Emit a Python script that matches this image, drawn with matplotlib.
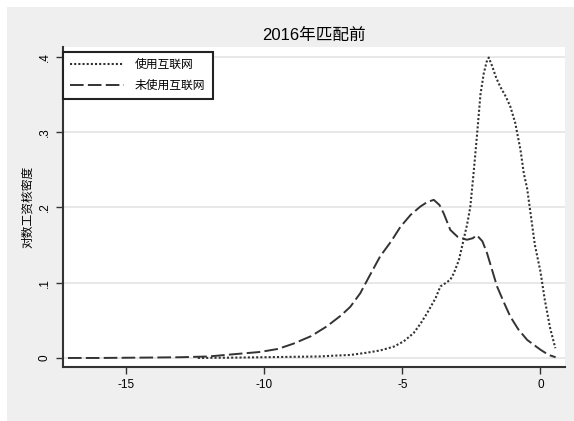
import matplotlib
matplotlib.use('Agg')
import matplotlib.pyplot as plt
from matplotlib.patches import Rectangle

plt.rcParams['font.family'] = ['Liberation Sans', 'Noto Sans CJK SC', 'DejaVu Sans']

# kernel density
x_internet = [-12.4, -11, -10, -9, -8, -7.5, -6.88, -6.28, -5.8, -5.31, -4.95, -4.59,
              -4.35, -4.11, -3.8, -3.62, -3.45, -3.26, -3.14, -2.95, -2.78, -2.65, -2.54,
              -2.42, -2.29, -2.17, -2.05, -1.95, -1.87, -1.75, -1.6, -1.45, -1.25, -1.09,
              -0.91, -0.72, -0.6, -0.48, -0.2, 0.0, 0.16, 0.35, 0.54]
y_internet = [0.0, 0.0005, 0.001, 0.0015, 0.002, 0.003, 0.004, 0.007, 0.010, 0.015, 0.022, 0.033,
              0.045, 0.059, 0.079, 0.095, 0.099, 0.104, 0.112, 0.130, 0.157, 0.178, 0.200,
              0.245, 0.298, 0.350, 0.378, 0.393, 0.399, 0.388, 0.372, 0.360, 0.347, 0.334,
              0.312, 0.276, 0.245, 0.225, 0.150, 0.115, 0.077, 0.040, 0.013]

x_no_internet = [-17.1, -16, -15, -14, -13, -12, -11.4, -10.14, -9.5, -8.94, -8.3, -7.73,
                 -7.2, -6.88, -6.52, -6.2, -5.8, -5.4, -5.07, -4.7, -4.35, -4.1, -3.86,
                 -3.65, -3.5, -3.26, -3.0, -2.66, -2.45, -2.3, -2.1, -1.93, -1.75, -1.57,
                 -1.3, -1.09, -0.8, -0.48, 0.0, 0.3, 0.55]
y_no_internet = [0.0, 0.0, 0.0003, 0.0006, 0.001, 0.002, 0.004, 0.008, 0.012, 0.019, 0.029, 0.042,
                 0.057, 0.068, 0.086, 0.108, 0.135, 0.155, 0.174, 0.190, 0.201, 0.207, 0.210,
                 0.203, 0.192, 0.170, 0.161, 0.157, 0.159, 0.163, 0.155, 0.139, 0.117, 0.095,
                 0.072, 0.055, 0.038, 0.024, 0.011, 0.004, 0.001]

xticks = [-15, -10, -5, 0]
yticks = [0, 0.1, 0.2, 0.3, 0.4]
ytick_labels = ['0', '.1', '.2', '.3', '.4']

W, H = 574, 421
fig = plt.figure(figsize=(W / 100, H / 100), dpi=100, facecolor='white')
bg = Rectangle((7 / W, 0), 1 - 7 / W, 1 - 7 / H, transform=fig.transFigure,
               facecolor='#efefef', edgecolor='none', zorder=-10)
fig.patches.append(bg)

ax = fig.add_axes([63 / W, (H - 367) / H, (565 - 63) / W, (367 - 47) / H])
ax.set_facecolor('white')

ax.plot(x_internet, y_internet, color='#333333', lw=1.5, linestyle=(0, (1.0, 1.0)),
        label='使用互联网')
ax.plot(x_no_internet, y_no_internet, color='#333333', lw=1.4, linestyle=(0, (7, 2.2)),
        label='未使用互联网')

ax.set_xlim(-17.28, 0.89)
ax.set_ylim(-0.012, 0.413)

ax.set_xticks(xticks)
ax.set_xticklabels([str(t) for t in xticks], fontsize=8.5)
ax.set_yticks(yticks)
ax.set_yticklabels(ytick_labels, fontsize=8.5, rotation=90, va='center')
ax.yaxis.grid(True, color='#e6e6e6', lw=1.3)
ax.set_axisbelow(True)

for s in ['top', 'right']:
    ax.spines[s].set_visible(False)
for s in ['left', 'bottom']:
    ax.spines[s].set_color('#333333')
    ax.spines[s].set_linewidth(1.5)
ax.tick_params(length=5, width=1, color='#333333', pad=4)

ax.set_ylabel('对数工资核密度', fontsize=8.5, labelpad=3)
ax.set_title('2016年匹配前', fontsize=12, pad=5)

leg = ax.legend(loc='upper left', bbox_to_anchor=(0.0, 0.985), borderaxespad=0,
                fontsize=8.5, handlelength=4.6, handletextpad=0.9, fancybox=False,
                framealpha=1, borderpad=0.6, labelspacing=0.75)
leg.get_frame().set_edgecolor('#222222')
leg.get_frame().set_linewidth(1.5)

fig.savefig('out.png', dpi=100, facecolor=fig.get_facecolor())
